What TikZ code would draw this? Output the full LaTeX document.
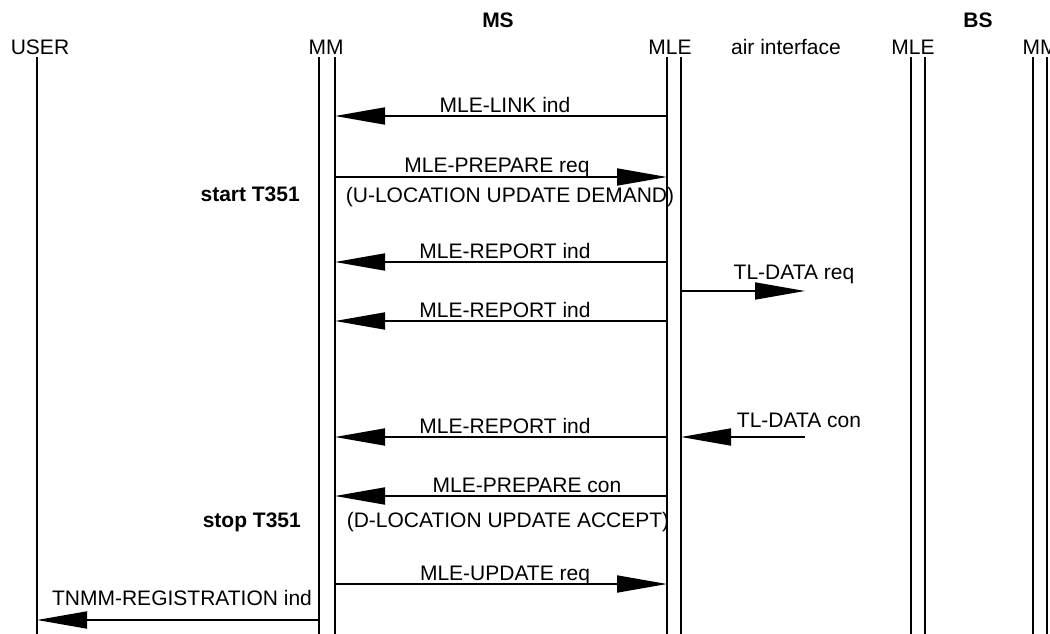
\documentclass[tikz,border=0pt]{standalone}
\usepackage{fontspec}
\setmainfont{Liberation Sans}
\usetikzlibrary{arrows.meta}
\newcommand{\sigfont}{\fontsize{21}{25}\selectfont}
\tikzset{
  life/.style={line width=1.8pt},
  msg/.style={line width=1.8pt,-{Triangle[length=50pt,width=17pt]}},
  txt/.style={anchor=base,inner sep=0pt,font=\sigfont},
  hdr/.style={anchor=base,inner sep=0pt,font=\sigfont\bfseries}
}

\begin{document}
\begin{tikzpicture}[x=1pt,y=-1pt]
  \useasboundingbox (0,0) rectangle (1050,634);
  \foreach \name/\x in {user/37,mma/319,mmb/335,msa/667,msb/681,bsa/911,bsb/925,bma/1033,bmb/1047}
    \draw[life] (\x,57) coordinate (\name) -- (\x,634);
  \coordinate (air) at (805,57);
  \node[hdr] (ms) at (498,28) {MS};
  \node[hdr] (bs) at (978,28) {BS};
  \foreach \name/\x/\txt in {huser/40/USER,hmm/326/MM,hmle/670/MLE,hair/786/air interface,hbmle/913/MLE,hbmm/1040/MM}
    \node[txt] (\name) at (\x,55) {\txt};
  \foreach \y/\from/\to/\x/\by/\txt [count=\i] in {
    116/msa/mmb/505/112/MLE-LINK ind,
    177/mmb/msa/497/172/MLE-PREPARE req,
    262/msa/mmb/505/258/MLE-REPORT ind,
    291/msb/air/794/279/TL-DATA req,
    321/msa/mmb/505/317/MLE-REPORT ind,
    437/air/msb/799/427/TL-DATA con,
    437/msa/mmb/505/433/MLE-REPORT ind,
    496/msa/mmb/527/492/MLE-PREPARE con,
    584/mmb/msa/505/580/MLE-UPDATE req,
    620/mma/user/182/605/TNMM-REGISTRATION ind}
  {
    \draw[msg] (\from |- 0,\y) -- (\to |- 0,\y);
    \node[txt] (m\i) at (\x,\by) {\txt};
  }
  \node[txt] (demand) at (510,202) {(U-LOCATION UPDATE DEMAND)};
  \node[txt] (accept) at (508,527) {(D-LOCATION UPDATE ACCEPT)};
  \node[hdr,anchor=base east] (start) at (300,201) {start T351};
  \node[hdr,anchor=base east] (stop) at (301,527) {stop T351};
\end{tikzpicture}
\end{document}
